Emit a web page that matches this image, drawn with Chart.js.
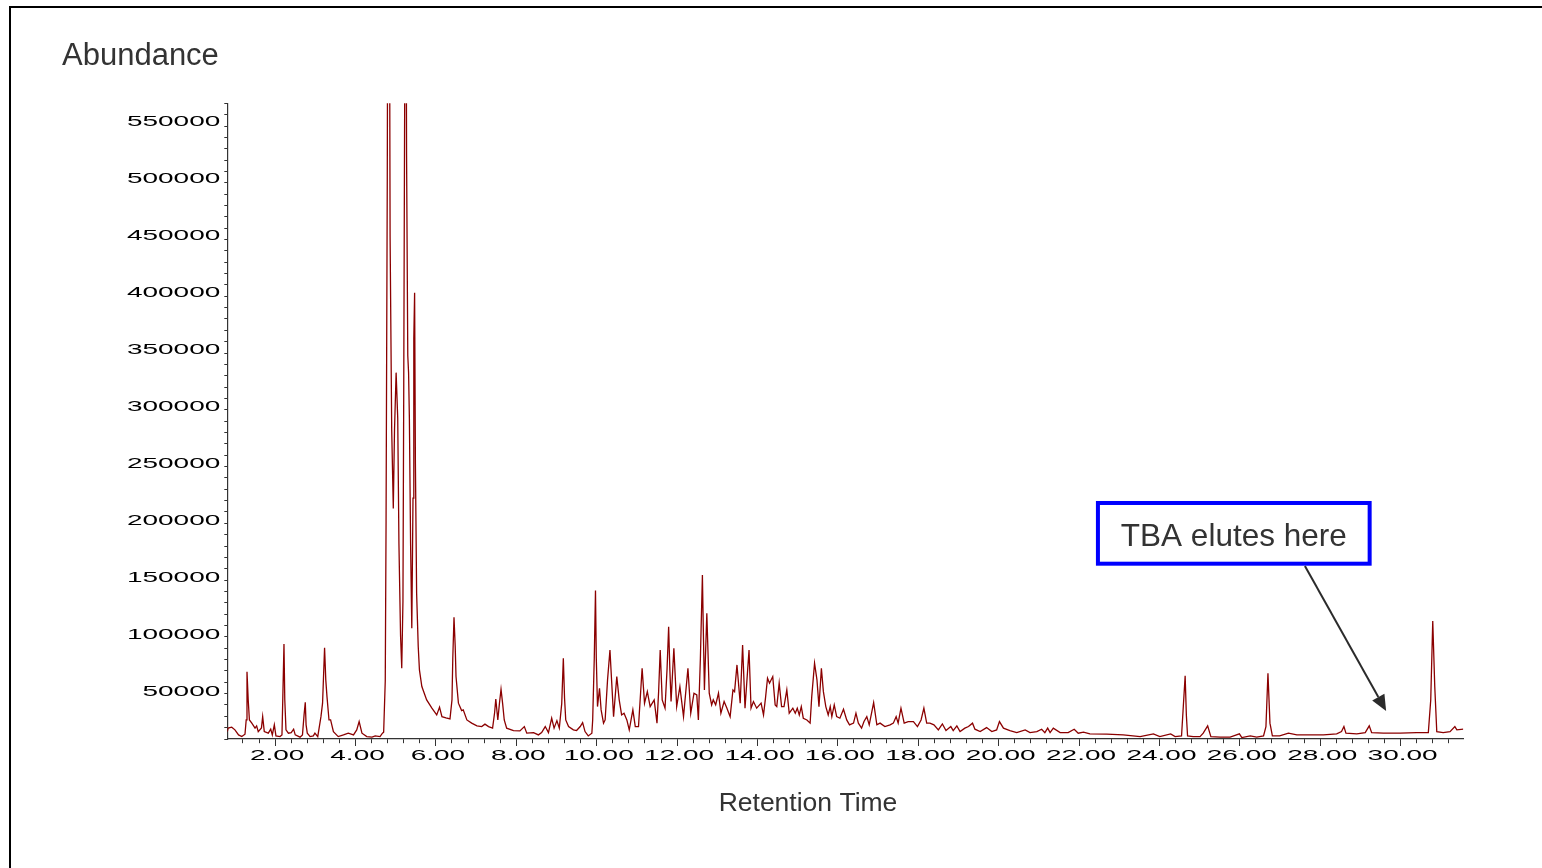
<!DOCTYPE html>
<html>
<head>
<meta charset="utf-8">
<title>Total Ion Chromatogram - Abundance vs Retention Time</title>
<script src="https://cdn.jsdelivr.net/npm/chart.js@4.4.1/dist/chart.umd.min.js"></script>
<style>
    html, body { margin: 0; padding: 0; background: #fff; }
    .page { position: relative; width: 1542px; height: 868px; overflow: hidden; }
    #chromChart { position: absolute; left: 0; top: 0; }
    /* thin black frame, only top and left edges are visible in the print */
    .frame {
        position: absolute; left: 9px; top: 6px; right: -20px; bottom: -20px;
        border-top: 2px solid #000; border-left: 2.5px solid #000;
        pointer-events: none;
    }
</style>
</head>
<body>
<div class="page">
    <canvas id="chromChart" width="1542" height="868"></canvas>
    <div class="frame"></div>
</div>

<script>
// --- Chromatogram data (retention time in minutes, abundance in counts) ---
const retentionTime = [
    0.81, 0.83, 0.92, 1.00, 1.09, 1.17, 1.25, 1.28, 1.30, 1.33,
    1.36, 1.42, 1.50, 1.54, 1.58, 1.66, 1.69, 1.73, 1.83, 1.89,
    1.93, 1.98, 2.02, 2.12, 2.17, 2.19, 2.22, 2.24, 2.27, 2.33,
    2.40, 2.46, 2.50, 2.62, 2.68, 2.72, 2.75, 2.77, 2.80, 2.87,
    2.95, 2.99, 3.06, 3.14, 3.18, 3.23, 3.26, 3.29, 3.34, 3.38,
    3.45, 3.57, 3.70, 3.82, 3.95, 4.03, 4.09, 4.16, 4.28, 4.41,
    4.49, 4.61, 4.67, 4.70, 4.74, 4.76, 4.79, 4.81, 4.84, 4.86,
    4.90, 4.94, 4.97, 5.01, 5.05, 5.08, 5.12, 5.15, 5.18, 5.20,
    5.22, 5.25, 5.27, 5.30, 5.32, 5.34, 5.37, 5.40, 5.43, 5.45,
    5.47, 5.49, 5.52, 5.56, 5.59, 5.65, 5.77, 5.90, 6.02, 6.05,
    6.09, 6.15, 6.25, 6.35, 6.40, 6.42, 6.45, 6.48, 6.50, 6.56,
    6.64, 6.68, 6.77, 6.89, 7.02, 7.14, 7.22, 7.31, 7.41, 7.46,
    7.49, 7.54, 7.58, 7.62, 7.66, 7.70, 7.76, 7.93, 8.09, 8.20,
    8.26, 8.43, 8.55, 8.63, 8.72, 8.80, 8.88, 8.94, 9.01, 9.07,
    9.13, 9.17, 9.20, 9.23, 9.30, 9.42, 9.50, 9.59, 9.65, 9.71,
    9.79, 9.88, 9.90, 9.94, 9.97, 9.99, 10.02, 10.07, 10.11, 10.17,
    10.21, 10.27, 10.33, 10.37, 10.42, 10.50, 10.56, 10.62, 10.68, 10.75,
    10.81, 10.90, 10.96, 11.04, 11.13, 11.19, 11.26, 11.33, 11.43, 11.50,
    11.54, 11.58, 11.63, 11.70, 11.75, 11.79, 11.82, 11.85, 11.92, 11.99,
    12.07, 12.16, 12.27, 12.34, 12.42, 12.49, 12.53, 12.58, 12.63, 12.65,
    12.68, 12.74, 12.80, 12.86, 12.90, 12.96, 13.03, 13.09, 13.17, 13.24,
    13.32, 13.39, 13.43, 13.49, 13.57, 13.63, 13.69, 13.79, 13.84, 13.90,
    13.98, 14.09, 14.15, 14.20, 14.25, 14.30, 14.38, 14.44, 14.48, 14.54,
    14.60, 14.66, 14.73, 14.79, 14.88, 14.94, 14.99, 15.04, 15.09, 15.14,
    15.23, 15.31, 15.35, 15.42, 15.48, 15.53, 15.59, 15.64, 15.70, 15.76,
    15.81, 15.85, 15.91, 15.97, 16.05, 16.14, 16.22, 16.29, 16.39, 16.45,
    16.51, 16.59, 16.65, 16.72, 16.78, 16.89, 16.97, 17.05, 17.17, 17.30,
    17.38, 17.45, 17.50, 17.57, 17.65, 17.75, 17.88, 17.98, 18.07, 18.14,
    18.21, 18.29, 18.39, 18.50, 18.60, 18.69, 18.81, 18.87, 18.96, 19.04,
    19.16, 19.25, 19.35, 19.41, 19.54, 19.70, 19.83, 19.95, 20.02, 20.12,
    20.28, 20.45, 20.66, 20.78, 20.95, 21.07, 21.15, 21.22, 21.28, 21.36,
    21.53, 21.73, 21.88, 21.98, 22.11, 22.27, 22.69, 23.10, 23.52, 23.85,
    24.01, 24.28, 24.39, 24.55, 24.59, 24.64, 24.67, 24.70, 24.84, 25.01,
    25.09, 25.20, 25.28, 25.51, 25.76, 25.99, 26.05, 26.26, 26.42, 26.59,
    26.65, 26.70, 26.75, 26.81, 26.99, 27.21, 27.42, 27.66, 28.08, 28.41,
    28.53, 28.59, 28.64, 28.91, 29.12, 29.22, 29.28, 29.57, 29.99, 30.40,
    30.69, 30.75, 30.80, 30.85, 30.90, 31.06, 31.23, 31.35, 31.40, 31.56
];

const abundance = [
    15500, 18500, 19300, 17000, 12600, 11100, 13200, 25700, 68000, 43300,
    25700, 22900, 18500, 20500, 15500, 18700, 28600, 15500, 14100, 17600,
    12600, 21400, 11700, 11100, 12600, 43300, 92300, 43300, 17000, 14100,
    14600, 17600, 12600, 10600, 12600, 30100, 41200, 21400, 14100, 11100,
    11700, 14100, 11100, 28600, 40400, 89000, 60800, 46100, 25700, 25700,
    15500, 11100, 12600, 14100, 12600, 17000, 24300, 14100, 11100, 10600,
    11700, 11100, 14100, 15000, 60000, 200000, 500000, 820000, 750000, 450000,
    280000, 211000, 280000, 330000, 290000, 180000, 100000, 71000, 130000, 320000,
    540000, 800000, 520000, 345000, 330000, 290000, 180000, 106000, 220000, 360000,
    400000, 250000, 137000, 90000, 69500, 55000, 43300, 36000, 30100, 33000,
    36900, 28600, 27500, 26600, 43300, 80000, 115700, 90000, 63700, 40400,
    33900, 34500, 25700, 22900, 20500, 19900, 22000, 19900, 18500, 32000,
    44100, 25700, 40000, 52600, 40000, 25700, 18500, 16400, 16100, 19900,
    14100, 14600, 12600, 14600, 19900, 14600, 27200, 18500, 25100, 18500,
    40000, 79800, 45000, 25700, 19900, 17000, 16400, 19900, 23400, 15500,
    11700, 14100, 25700, 80000, 139000, 80000, 37400, 53500, 34500, 22900,
    25700, 60800, 87000, 60800, 28600, 63700, 43300, 30100, 31600, 25700,
    17000, 34500, 19900, 19900, 71000, 40400, 50500, 37400, 43300, 22900,
    50000, 87000, 43300, 36000, 70000, 107400, 70000, 41800, 88500, 37400,
    54900, 28600, 71000, 31600, 49100, 47600, 25700, 80000, 152700, 110000,
    52000, 119200, 49100, 38900, 43300, 38900, 49100, 31600, 41800, 36000,
    28600, 52000, 50500, 73900, 40400, 91400, 36000, 87000, 36000, 41800,
    36000, 40400, 30100, 45000, 62300, 57900, 63700, 38900, 37400, 57900,
    37400, 37400, 52000, 31600, 36000, 31600, 36000, 30100, 37400, 27200,
    25700, 22900, 46100, 75400, 60800, 37400, 71000, 50500, 37400, 30100,
    37400, 28600, 38900, 28600, 27200, 35100, 25700, 21400, 22900, 31600,
    22900, 18500, 24300, 28600, 21400, 40900, 21400, 22900, 19900, 21400,
    22900, 28600, 22900, 36000, 22900, 24300, 24300, 19900, 25700, 36000,
    22900, 22900, 21400, 17000, 22200, 16400, 19900, 16400, 20500, 15500,
    18500, 19900, 22900, 17600, 15500, 19000, 15500, 17000, 24300, 18500,
    16400, 14600, 17000, 14600, 15500, 17600, 14600, 18500, 14600, 18500,
    14600, 14600, 17600, 14100, 15000, 13500, 13200, 12600, 11100, 13500,
    11100, 13500, 11100, 11700, 35000, 64300, 30000, 11700, 11100, 11100,
    14100, 20500, 11100, 10600, 10600, 13500, 10300, 11700, 10600, 11700,
    19900, 66600, 22900, 11700, 11700, 14100, 12600, 12600, 12600, 13500,
    15500, 19900, 14100, 13500, 14600, 20500, 14600, 14100, 14100, 14600,
    14600, 43300, 112400, 54900, 15500, 14600, 15500, 19900, 17000, 17600
];

// --- Axis range and tick labels ---
const timeRange = [0.81, 31.56];
const abundanceRange = [9000, 566000];
const xTickLabels = ['2.00', '4.00', '6.00', '8.00', '10.00', '12.00', '14.00', '16.00',
                     '18.00', '20.00', '22.00', '24.00', '26.00', '28.00', '30.00'];
const yTickLabels = ['50000', '100000', '150000', '200000', '250000', '300000',
                     '350000', '400000', '450000', '500000', '550000'];

// Callout placed in data coordinates so it follows the scales
const callout = {
    text: 'TBA elutes here',
    box: { x1: 22.47, x2: 29.23, y1: 215800, y2: 162600 },
    arrowFrom: { x: 27.62, y: 160600 },
    arrowTo: { x: 29.64, y: 33500 }
};

const FONT = '"Liberation Sans", Arial, Helvetica, sans-serif';
const TICK_STRETCH = 1.93;   // the instrument printout uses very wide digits
const AXIS_COLOR = '#333';

document.addEventListener('DOMContentLoaded', function () {

    /**
     * Draws text stretched horizontally around (x, y).
     */
    const drawStretched = (ctx, text, x, y, align) => {
        ctx.save();
        ctx.translate(x, y);
        ctx.scale(TICK_STRETCH, 1);
        ctx.textAlign = align;
        ctx.fillText(text, 0, 0);
        ctx.restore();
    };

    /**
     * Tick labels, axis titles and the TBA callout.
     */
    const printoutDecorations = {
        id: 'printoutDecorations',
        afterDraw(chart) {
            const { ctx, chartArea, scales: { x, y } } = chart;
            ctx.save();

            // tick labels
            ctx.fillStyle = '#000';
            ctx.font = '14.5px ' + FONT;
            ctx.textBaseline = 'middle';
            xTickLabels.forEach(label => {
                drawStretched(ctx, label, x.getPixelForValue(parseFloat(label)) + 2, chartArea.bottom + 16.5, 'center');
            });
            yTickLabels.forEach(label => {
                drawStretched(ctx, label, chartArea.left - 7, y.getPixelForValue(Number(label)), 'right');
            });

            // axis titles
            ctx.fillStyle = '#333';
            ctx.textBaseline = 'alphabetic';
            ctx.textAlign = 'left';
            ctx.font = '31px ' + FONT;
            ctx.fillText('Abundance', 62, 65);
            ctx.textAlign = 'center';
            ctx.font = '26.5px ' + FONT;
            ctx.fillText('Retention Time', 808, 811);

            // callout box
            const bx1 = x.getPixelForValue(callout.box.x1);
            const bx2 = x.getPixelForValue(callout.box.x2);
            const by1 = y.getPixelForValue(callout.box.y1);
            const by2 = y.getPixelForValue(callout.box.y2);
            ctx.strokeStyle = '#0000ff';
            ctx.lineWidth = 4;
            ctx.strokeRect(bx1, by1, bx2 - bx1, by2 - by1);
            ctx.fillStyle = '#333';
            ctx.font = '31.5px ' + FONT;
            ctx.textAlign = 'center';
            ctx.fillText(callout.text, (bx1 + bx2) / 2, by1 + 43);

            // arrow
            const ax1 = x.getPixelForValue(callout.arrowFrom.x);
            const ay1 = y.getPixelForValue(callout.arrowFrom.y);
            const ax2 = x.getPixelForValue(callout.arrowTo.x);
            const ay2 = y.getPixelForValue(callout.arrowTo.y);
            const angle = Math.atan2(ay2 - ay1, ax2 - ax1);
            const headLen = 16, headHalf = 7;
            const baseX = ax2 - headLen * Math.cos(angle);
            const baseY = ay2 - headLen * Math.sin(angle);
            ctx.strokeStyle = '#2b2b2b';
            ctx.fillStyle = '#2b2b2b';
            ctx.lineWidth = 2;
            ctx.beginPath();
            ctx.moveTo(ax1, ay1);
            ctx.lineTo(baseX, baseY);
            ctx.stroke();
            ctx.beginPath();
            ctx.moveTo(ax2, ay2);
            ctx.lineTo(baseX + headHalf * Math.sin(angle), baseY - headHalf * Math.cos(angle));
            ctx.lineTo(baseX - headHalf * Math.sin(angle), baseY + headHalf * Math.cos(angle));
            ctx.closePath();
            ctx.fill();

            ctx.restore();
        }
    };

    const isMajor = (value, step) => Math.abs(value / step - Math.round(value / step)) < 1e-6;

    const initializeChromatogram = () => {
        const canvas = document.getElementById('chromChart');
        if (!canvas) {
            return;
        }

        new Chart(canvas.getContext('2d'), {
            type: 'line',
            data: {
                datasets: [{
                    label: 'TIC',
                    data: retentionTime.map((t, i) => ({ x: t, y: abundance[i] })),
                    borderColor: '#8b0000',
                    borderWidth: 1.3,
                    pointRadius: 0,
                    tension: 0,
                    fill: false
                }]
            },
            options: {
                responsive: false,
                animation: false,
                events: [],
                layout: {
                    padding: { left: 220.3, right: 78.7, top: 103.3, bottom: 122 }
                },
                scales: {
                    x: {
                        type: 'linear',
                        min: timeRange[0],
                        max: timeRange[1],
                        border: { color: AXIS_COLOR, width: 1.2 },
                        grid: {
                            drawOnChartArea: false,
                            tickLength: 7,
                            tickColor: AXIS_COLOR,
                            tickWidth: 1,
                            // minor ticks: only the 4px next to the axis
                            tickBorderDash: ctx => isMajor(ctx.tick.value, 2) ? [] : [4, 100]
                        },
                        ticks: { display: false, stepSize: 0.4, includeBounds: false }
                    },
                    y: {
                        type: 'linear',
                        min: abundanceRange[0],
                        max: abundanceRange[1],
                        border: { color: AXIS_COLOR, width: 1.2 },
                        grid: {
                            drawOnChartArea: false,
                            tickLength: 7,
                            tickColor: AXIS_COLOR,
                            tickWidth: 1,
                            // minor ticks: skip the outer 4px, keep 3px at the axis
                            tickBorderDash: ctx => isMajor(ctx.tick.value, 50000) ? [] : [0, 4, 3, 100]
                        },
                        ticks: { display: false, stepSize: 10000, includeBounds: false }
                    }
                },
                plugins: {
                    legend: { display: false },
                    tooltip: { enabled: false }
                }
            },
            plugins: [printoutDecorations]
        });
    };

    initializeChromatogram();
});
</script>
</body>
</html>
